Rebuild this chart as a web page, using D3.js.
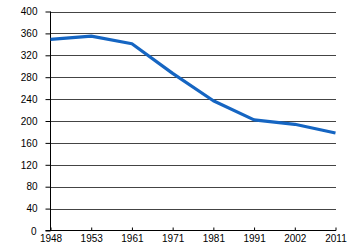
<!DOCTYPE html>
<html><head><meta charset="utf-8">
<script src="https://cdn.jsdelivr.net/npm/d3@7"></script>
<style>body{margin:0;background:#fff}svg{display:block}</style>
</head><body>
<svg id="c" width="350" height="250"></svg>
<script>
const years = ["1948","1953","1961","1971","1981","1991","2002","2011"];
const values = [349, 355, 341, 287, 237, 202, 194, 178];
const yTicks = [0,40,80,120,160,200,240,280,320,360,400];

const svg = d3.select("#c");
const x = d3.scalePoint().domain(years).range([50.5, 335.5]);
const y = d3.scaleLinear().domain([0,400]).range([230.5, 11.5]);
const font = "Liberation Sans, Arial, sans-serif";

// gridlines
svg.append("g").selectAll("line").data(yTicks.filter(d=>d>0)).join("line")
  .attr("x1", 50.5).attr("x2", 336)
  .attr("y1", d=>Math.round(y(d))+0.5).attr("y2", d=>Math.round(y(d))+0.5)
  .attr("stroke", "#444").attr("stroke-width", 1);

// y axis
const ya = svg.append("g").attr("transform","translate(50.5,0)")
  .call(d3.axisLeft(y).tickValues(yTicks).tickSize(5).tickPadding(8).tickFormat(d3.format("d")));
ya.select(".domain").attr("stroke","#000").attr("d","M0,"+y(400)+"V"+y(0));
ya.selectAll(".tick line").attr("stroke","#000");
ya.selectAll("text").attr("font-family",font).attr("font-size",10).attr("fill","#000");
ya.selectAll(".tick").filter(d=>d===0).select("text").attr("dy","0.42em").attr("x",-14);

// x axis
const xa = svg.append("g").attr("transform","translate(0,230.5)")
  .call(d3.axisBottom(x).tickSize(-3).tickPadding(4));
xa.select(".domain").attr("stroke","#000").attr("d","M45.5,0H336");
xa.selectAll(".tick line").attr("stroke","#000");
xa.selectAll("text").attr("font-family",font).attr("font-size",10).attr("fill","#000");

// line
svg.append("path").datum(values)
  .attr("fill","none").attr("stroke","#1565c2").attr("stroke-width",3.2)
  .attr("stroke-linejoin","round")
  .attr("d", d3.line().x((d,i)=>x(years[i])).y(d=>y(d)));
</script>
</body></html>
